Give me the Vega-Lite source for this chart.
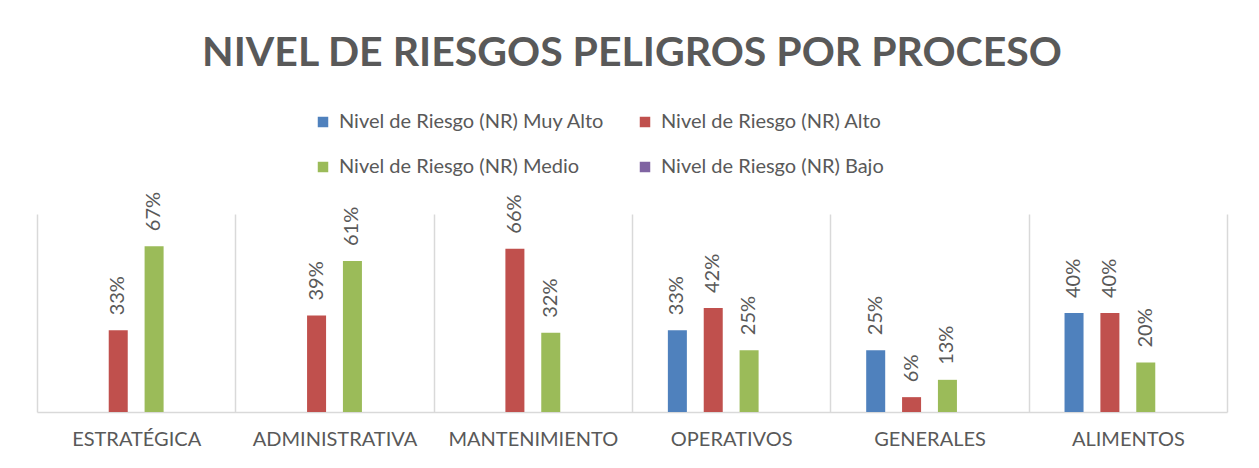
{
  "$schema": "https://vega.github.io/schema/vega-lite/v6.json",
  "width": 1190,
  "height": 198,
  "autosize": {"type": "none"},
  "padding": {"left": 37, "top": 214, "right": 32, "bottom": 56},
  "background": "white",
  "config": {"view": {"stroke": null}},
  "title": {
    "text": "NIVEL DE RIESGOS PELIGROS POR PROCESO",
    "font": "Lato",
    "fontSize": 41,
    "fontWeight": "bold",
    "color": "#595959",
    "anchor": "middle",
    "frame": "group",
    "baseline": "alphabetic",
    "offset": 5
  },
  "data": {
    "values": [
      {"proceso": "ESTRATÉGICA", "nivel": "Nivel de Riesgo (NR) Alto", "valor": 0.33},
      {"proceso": "ESTRATÉGICA", "nivel": "Nivel de Riesgo (NR) Medio", "valor": 0.67},
      {"proceso": "ADMINISTRATIVA", "nivel": "Nivel de Riesgo (NR) Alto", "valor": 0.39},
      {"proceso": "ADMINISTRATIVA", "nivel": "Nivel de Riesgo (NR) Medio", "valor": 0.61},
      {"proceso": "MANTENIMIENTO", "nivel": "Nivel de Riesgo (NR) Alto", "valor": 0.66},
      {"proceso": "MANTENIMIENTO", "nivel": "Nivel de Riesgo (NR) Medio", "valor": 0.32},
      {"proceso": "OPERATIVOS", "nivel": "Nivel de Riesgo (NR) Muy Alto", "valor": 0.33},
      {"proceso": "OPERATIVOS", "nivel": "Nivel de Riesgo (NR) Alto", "valor": 0.42},
      {"proceso": "OPERATIVOS", "nivel": "Nivel de Riesgo (NR) Medio", "valor": 0.25},
      {"proceso": "GENERALES", "nivel": "Nivel de Riesgo (NR) Muy Alto", "valor": 0.25},
      {"proceso": "GENERALES", "nivel": "Nivel de Riesgo (NR) Alto", "valor": 0.06},
      {"proceso": "GENERALES", "nivel": "Nivel de Riesgo (NR) Medio", "valor": 0.13},
      {"proceso": "ALIMENTOS", "nivel": "Nivel de Riesgo (NR) Muy Alto", "valor": 0.40},
      {"proceso": "ALIMENTOS", "nivel": "Nivel de Riesgo (NR) Alto", "valor": 0.40},
      {"proceso": "ALIMENTOS", "nivel": "Nivel de Riesgo (NR) Medio", "valor": 0.20}
    ]
  },
  "encoding": {
    "x": {
      "field": "proceso",
      "type": "nominal",
      "sort": ["ESTRATÉGICA", "ADMINISTRATIVA", "MANTENIMIENTO", "OPERATIVOS", "GENERALES", "ALIMENTOS"],
      "scale": {"paddingInner": 0, "paddingOuter": 0},
      "axis": {
        "title": null,
        "labelAngle": 0,
        "labelFont": "Lato",
        "labelFontSize": 20,
        "labelColor": "#595959",
        "labelPadding": 17,
        "labelOverlap": false,
        "labelBound": false,
        "ticks": false,
        "tickBand": "extent",
        "grid": true,
        "gridColor": "#d9d9d9",
        "gridWidth": 1.5,
        "domainColor": "#d9d9d9",
        "domainWidth": 1.5
      }
    },
    "xOffset": {
      "field": "nivel",
      "type": "nominal",
      "scale": {
        "domain": ["Nivel de Riesgo (NR) Muy Alto", "Nivel de Riesgo (NR) Alto", "Nivel de Riesgo (NR) Medio", "Nivel de Riesgo (NR) Bajo"],
        "paddingInner": 0.47,
        "paddingOuter": 1.15
      }
    },
    "y": {
      "field": "valor",
      "type": "quantitative",
      "scale": {"domain": [0, 0.8], "nice": false},
      "axis": null
    }
  },
  "layer": [
    {
      "mark": {"type": "bar"},
      "encoding": {
        "color": {
          "field": "nivel",
          "type": "nominal",
          "scale": {
            "domain": ["Nivel de Riesgo (NR) Muy Alto", "Nivel de Riesgo (NR) Alto", "Nivel de Riesgo (NR) Medio", "Nivel de Riesgo (NR) Bajo"],
            "range": ["#4f81bd", "#c0504d", "#9bbb59", "#8064a2"]
          },
          "legend": {
            "title": null,
            "orient": "none",
            "legendX": 276,
            "legendY": -102,
            "columns": 2,
            "direction": "horizontal",
            "symbolType": "square",
            "symbolSize": 110,
            "symbolStrokeWidth": 0,
            "labelFont": "Lato",
            "labelFontSize": 20,
            "labelColor": "#595959",
            "labelOffset": 6,
            "columnPadding": 30,
            "rowPadding": 25,
            "labelLimit": 400
          }
        }
      }
    },
    {
      "mark": {
        "type": "text",
        "angle": 270,
        "align": "left",
        "baseline": "middle",
        "dx": 15,
        "font": "Lato",
        "fontSize": 20,
        "color": "#595959"
      },
      "encoding": {
        "text": {"field": "valor", "type": "quantitative", "format": ".0%"}
      }
    }
  ]
}
